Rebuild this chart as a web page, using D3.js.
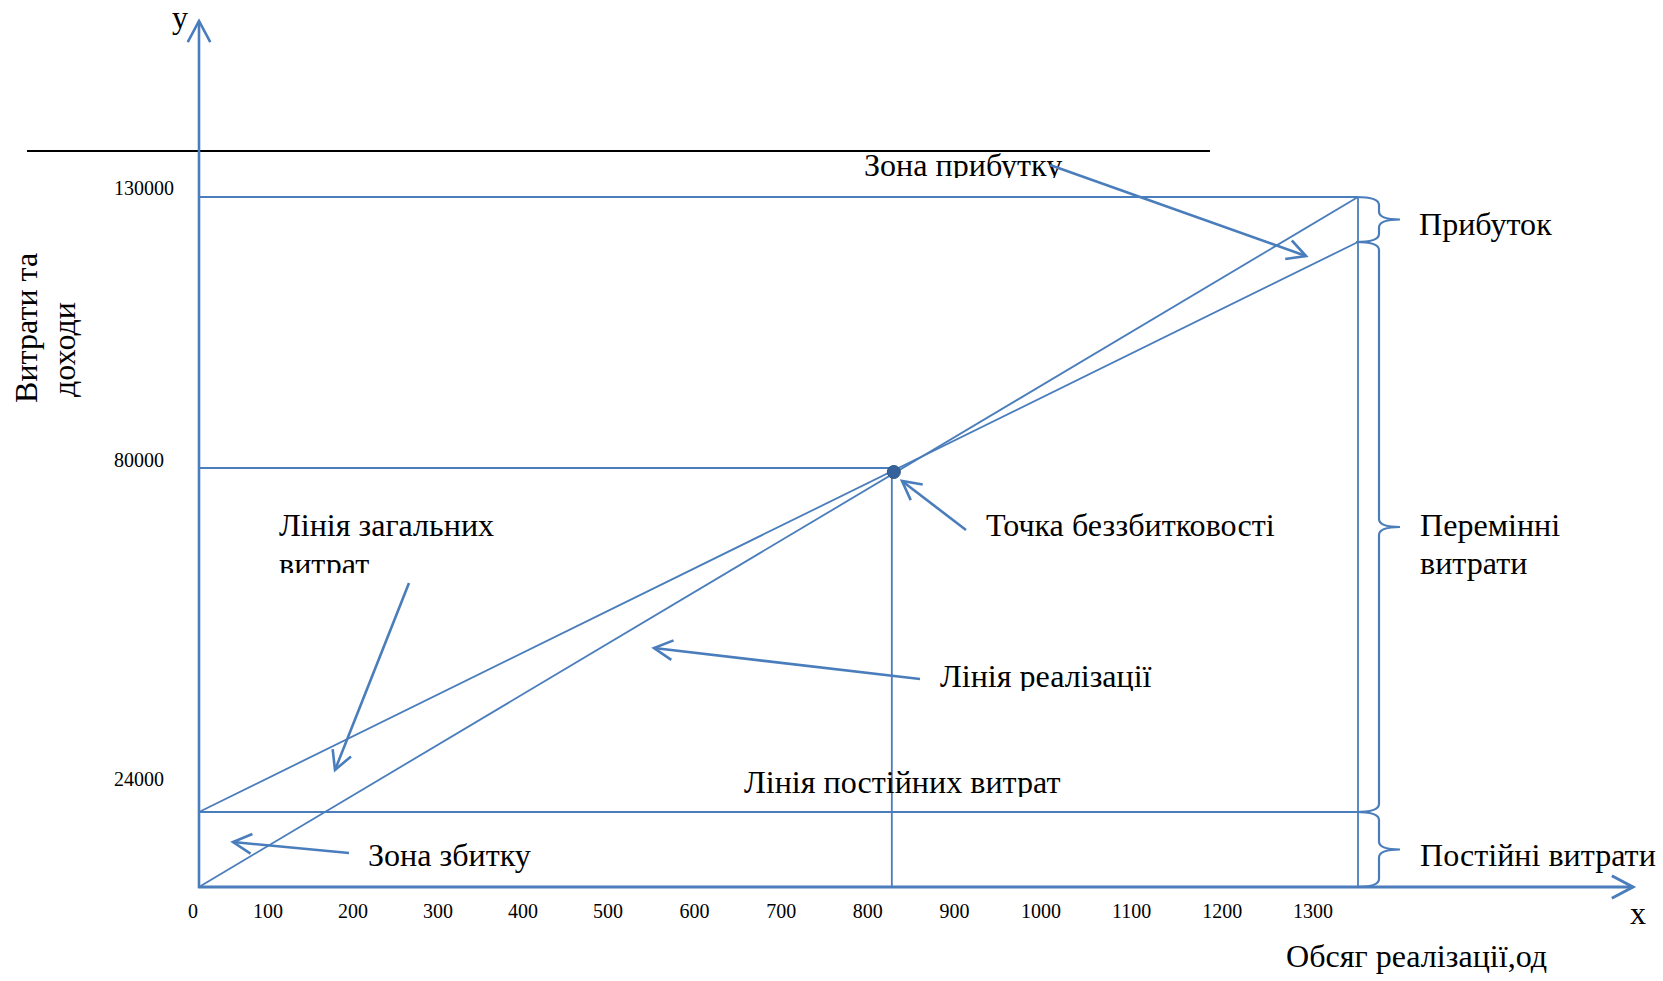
<!DOCTYPE html>
<html>
<head>
<meta charset="utf-8">
<script src="https://cdn.jsdelivr.net/npm/d3@7"></script>
<style>
  html, body { margin: 0; padding: 0; background: #fff; }
  svg { display: block; }
  text { font-family: "Liberation Serif", "Times New Roman", serif; fill: #000; }
</style>
</head>
<body>
<svg id="chart" width="1663" height="981"></svg>
<script>
// ---------- data ----------
const quantityTicks = [0, 100, 200, 300, 400, 500, 600, 700, 800, 900, 1000, 1100, 1200, 1300];
const valueTicks = [24000, 80000, 130000];
const maxQuantity = 1350;
const fixedCosts = 24000;
const revenueAtMax = 130000;
const totalCostAtMax = 121700;
const breakEvenQuantity = 807;
const breakEvenValue = 80000;
const revenueLine = [[0, 0], [maxQuantity, revenueAtMax]];
const totalCostLine = [[0, fixedCosts], [maxQuantity, totalCostAtMax]];
const fixedCostLine = [[0, fixedCosts], [maxQuantity, fixedCosts]];

// ---------- layout ----------
const BLUE = "#4a7dbb";
const svg = d3.select("#chart");
svg.append("rect").attr("width", 1663).attr("height", 981).attr("fill", "#fff");

const x = d3.scaleLinear().domain([0, maxQuantity]).range([199, 1358]);
// schematic (non-proportional) value axis of the original drawing
const y = d3.scaleLinear().domain([0, 24000, 80000, 130000]).range([887, 812, 468, 197]);
// tick labels were typed at slightly irregular positions
const xLabel = d3.scaleLinear().domain([0, 100, 500, 1000, 1300]).range([193, 268, 608, 1041, 1313]);
const valueLabelBaseline = d3.scaleLinear().domain([0, 24000, 80000, 130000]).range([887, 786, 467, 195]);

const line = d3.line().x(d => x(d[0])).y(d => y(d[1]));

// clip paths for clipped text boxes
const defs = svg.append("defs");
function clip(id, yMax) {
  defs.append("clipPath").attr("id", id)
    .append("rect").attr("x", 0).attr("y", 0).attr("width", 1663).attr("height", yMax);
  return `url(#${id})`;
}

// open arrow helper
function arrow(g, x1, y1, x2, y2, w, len) {
  len = len || 21;
  const a = Math.atan2(y1 - y2, x1 - x2);
  const s = 28 * Math.PI / 180;
  g.append("line").attr("x1", x1).attr("y1", y1).attr("x2", x2).attr("y2", y2)
    .attr("stroke", BLUE).attr("stroke-width", w);
  g.append("path")
    .attr("d", `M${x2 + len * Math.cos(a + s)},${y2 + len * Math.sin(a + s)} L${x2},${y2} L${x2 + len * Math.cos(a - s)},${y2 + len * Math.sin(a - s)}`)
    .attr("fill", "none").attr("stroke", BLUE).attr("stroke-width", w)
    .attr("stroke-linejoin", "miter");
}

// stray black line at top
svg.append("line").attr("x1", 27).attr("x2", 1210).attr("y1", 151).attr("y2", 151)
  .attr("stroke", "#000").attr("stroke-width", 2);

// reference lines
const g = svg.append("g");
g.append("line").attr("x1", x(0)).attr("x2", x(maxQuantity)).attr("y1", y(revenueAtMax)).attr("y2", y(revenueAtMax))
  .attr("stroke", BLUE).attr("stroke-width", 1.8);
g.append("line").attr("x1", x(0)).attr("x2", x(breakEvenQuantity)).attr("y1", y(breakEvenValue)).attr("y2", y(breakEvenValue))
  .attr("stroke", BLUE).attr("stroke-width", 1.8);
g.append("line").attr("x1", x(breakEvenQuantity)).attr("x2", x(breakEvenQuantity)).attr("y1", y(breakEvenValue)).attr("y2", y(0))
  .attr("stroke", BLUE).attr("stroke-width", 1.8);
g.append("line").attr("x1", x(maxQuantity)).attr("x2", x(maxQuantity)).attr("y1", y(revenueAtMax)).attr("y2", y(0))
  .attr("stroke", BLUE).attr("stroke-width", 1.8);
g.append("path").attr("d", line(fixedCostLine)).attr("fill", "none").attr("stroke", BLUE).attr("stroke-width", 1.8);
g.append("path").attr("d", line(revenueLine)).attr("fill", "none").attr("stroke", BLUE).attr("stroke-width", 1.8);
g.append("path").attr("d", line(totalCostLine)).attr("fill", "none").attr("stroke", BLUE).attr("stroke-width", 1.8);

// axes
arrow(svg, x(0), y(0) + 1, x(0), 21, 2.6, 24);
arrow(svg, x(0) - 1, y(0), 1633, y(0), 3, 24);

// break-even point
svg.append("circle").attr("cx", x(breakEvenQuantity) + 2).attr("cy", y(breakEvenValue) + 4).attr("r", 6.5)
  .attr("fill", "#36629c").attr("stroke", "#2d5587").attr("stroke-width", 1);

// braces
function brace(yTop, yBot) {
  const bx = 1379, ex = 1356, tx = 1400, yM = (yTop + yBot) / 2;
  const r = Math.min(8, (yBot - yTop) / 4);
  return `M${ex},${yTop} Q${bx},${yTop} ${bx},${yTop + r} L${bx},${yM - r} Q${bx},${yM} ${tx},${yM} ` +
         `Q${bx},${yM} ${bx},${yM + r} L${bx},${yBot - r} Q${bx},${yBot} ${ex},${yBot}`;
}
[[totalCostAtMax, revenueAtMax], [fixedCosts, totalCostAtMax], [0, fixedCosts]].forEach(([lo, hi]) => {
  svg.append("path").attr("d", brace(y(hi), y(lo)))
    .attr("fill", "none").attr("stroke", BLUE).attr("stroke-width", 2.2);
});

// tick labels
svg.append("g").selectAll("text").data(quantityTicks).join("text")
  .attr("x", d => xLabel(d)).attr("y", 918)
  .attr("text-anchor", "middle").attr("font-size", 20).text(d => d);
svg.append("g").selectAll("text").data(valueTicks).join("text")
  .attr("x", 114).attr("y", d => valueLabelBaseline(d))
  .attr("font-size", 20).text(d => d);

// axis letters and titles
const F = 32.1;
svg.append("text").attr("x", 172).attr("y", 28).attr("font-size", F).text("y");
svg.append("text").attr("x", 1630).attr("y", 924).attr("font-size", F).text("x");
svg.append("text").attr("transform", "translate(37,403) rotate(-90)").attr("font-size", F).text("Витрати та");
svg.append("text").attr("transform", "translate(75,397) rotate(-90)").attr("font-size", F).text("доходи");
svg.append("text").attr("x", 1286).attr("y", 967).attr("font-size", F).text("Обсяг реалізації,од");

// annotations
svg.append("text").attr("x", 864).attr("y", 176).attr("font-size", F)
  .attr("clip-path", clip("c1", 178)).text("Зона прибутку");
arrow(svg, 1050, 165, 1306, 256, 2.6);

svg.append("text").attr("x", 1419).attr("y", 235).attr("font-size", F).text("Прибуток");
svg.append("text").attr("x", 1420).attr("y", 536).attr("font-size", F).text("Перемінні");
svg.append("text").attr("x", 1420).attr("y", 574).attr("font-size", F).text("витрати");
svg.append("text").attr("x", 1420).attr("y", 866).attr("font-size", F).text("Постійні витрати");

svg.append("text").attr("x", 279).attr("y", 536).attr("font-size", F).text("Лінія загальних");
svg.append("text").attr("x", 279).attr("y", 575).attr("font-size", F)
  .attr("clip-path", clip("c2", 573)).text("витрат");
arrow(svg, 409, 583, 335, 770, 2.6);

svg.append("text").attr("x", 986).attr("y", 536).attr("font-size", F).text("Точка беззбитковості");
arrow(svg, 966, 530, 902, 481, 2.6);

svg.append("text").attr("x", 940).attr("y", 687).attr("font-size", F)
  .attr("clip-path", clip("c3", 691)).text("Лінія реалізації");
arrow(svg, 920, 679, 654, 648, 2.6);

svg.append("text").attr("x", 744).attr("y", 793).attr("font-size", F)
  .attr("clip-path", clip("c4", 797)).text("Лінія постійних витрат");

svg.append("text").attr("x", 368).attr("y", 866).attr("font-size", F).text("Зона збитку");
arrow(svg, 349, 853, 233, 842, 2.6);
</script>
</body>
</html>
